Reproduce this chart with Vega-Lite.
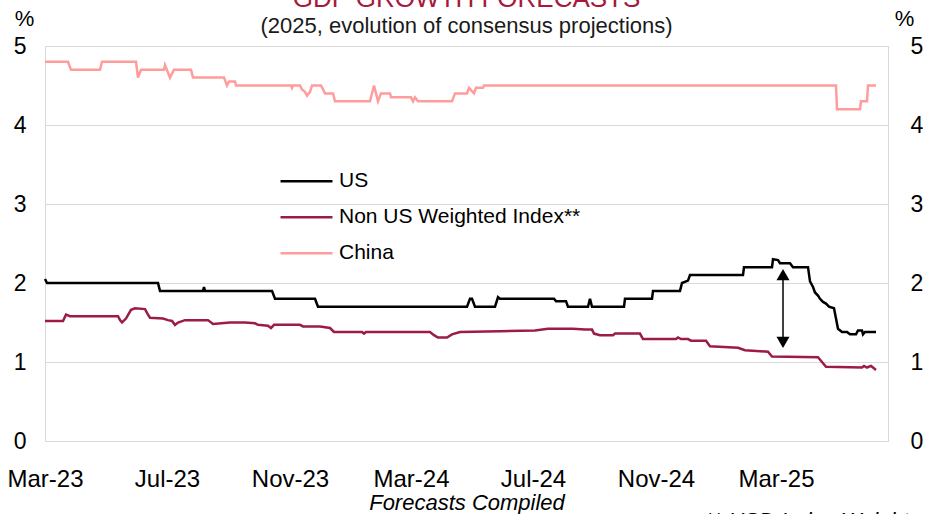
{
  "$schema": "https://vega.github.io/schema/vega-lite/v6.json",
  "width": 843,
  "height": 395,
  "autosize": {"type": "none"},
  "padding": {"left": 45, "top": 46, "right": 41, "bottom": 73},
  "background": "white",
  "config": {
    "font": "Liberation Sans",
    "view": {"stroke": "#D9D9D9", "strokeWidth": 1},
    "axis": {"domain": false, "ticks": false, "grid": false, "labelColor": "#000000", "titleColor": "#000000", "titleFontWeight": "normal"}
  },
  "title": {
    "text": "GDP GROWTH FORECASTS",
    "subtitle": "(2025, evolution of consensus projections)",
    "anchor": "middle",
    "frame": "group",
    "color": "#A6193C",
    "fontSize": 26,
    "fontWeight": "normal",
    "subtitleFontSize": 22,
    "subtitleColor": "#1A1A1A",
    "subtitlePadding": 4,
    "offset": -30
  },
  "datasets": {
    "gdp": [
      {"date": "2023-03-01", "series": "China", "value": 4.80},
      {"date": "2023-03-24", "series": "China", "value": 4.80},
      {"date": "2023-03-27", "series": "China", "value": 4.70},
      {"date": "2023-04-25", "series": "China", "value": 4.70},
      {"date": "2023-04-27", "series": "China", "value": 4.80},
      {"date": "2023-05-31", "series": "China", "value": 4.80},
      {"date": "2023-06-02", "series": "China", "value": 4.60},
      {"date": "2023-06-05", "series": "China", "value": 4.70},
      {"date": "2023-06-28", "series": "China", "value": 4.70},
      {"date": "2023-06-29", "series": "China", "value": 4.76},
      {"date": "2023-07-04", "series": "China", "value": 4.60},
      {"date": "2023-07-08", "series": "China", "value": 4.70},
      {"date": "2023-07-25", "series": "China", "value": 4.70},
      {"date": "2023-07-27", "series": "China", "value": 4.60},
      {"date": "2023-08-27", "series": "China", "value": 4.60},
      {"date": "2023-08-30", "series": "China", "value": 4.50},
      {"date": "2023-09-01", "series": "China", "value": 4.55},
      {"date": "2023-09-07", "series": "China", "value": 4.55},
      {"date": "2023-09-08", "series": "China", "value": 4.50},
      {"date": "2023-11-02", "series": "China", "value": 4.50},
      {"date": "2023-11-03", "series": "China", "value": 4.47},
      {"date": "2023-11-04", "series": "China", "value": 4.50},
      {"date": "2023-11-11", "series": "China", "value": 4.50},
      {"date": "2023-11-13", "series": "China", "value": 4.45},
      {"date": "2023-11-16", "series": "China", "value": 4.42},
      {"date": "2023-11-18", "series": "China", "value": 4.37},
      {"date": "2023-11-21", "series": "China", "value": 4.42},
      {"date": "2023-11-23", "series": "China", "value": 4.50},
      {"date": "2023-12-02", "series": "China", "value": 4.50},
      {"date": "2023-12-06", "series": "China", "value": 4.40},
      {"date": "2023-12-14", "series": "China", "value": 4.40},
      {"date": "2023-12-16", "series": "China", "value": 4.30},
      {"date": "2024-01-20", "series": "China", "value": 4.30},
      {"date": "2024-01-24", "series": "China", "value": 4.50},
      {"date": "2024-01-28", "series": "China", "value": 4.30},
      {"date": "2024-01-31", "series": "China", "value": 4.40},
      {"date": "2024-02-09", "series": "China", "value": 4.40},
      {"date": "2024-02-10", "series": "China", "value": 4.35},
      {"date": "2024-03-01", "series": "China", "value": 4.35},
      {"date": "2024-03-03", "series": "China", "value": 4.30},
      {"date": "2024-03-05", "series": "China", "value": 4.35},
      {"date": "2024-03-08", "series": "China", "value": 4.30},
      {"date": "2024-04-11", "series": "China", "value": 4.30},
      {"date": "2024-04-14", "series": "China", "value": 4.40},
      {"date": "2024-04-26", "series": "China", "value": 4.40},
      {"date": "2024-04-28", "series": "China", "value": 4.47},
      {"date": "2024-05-03", "series": "China", "value": 4.40},
      {"date": "2024-05-05", "series": "China", "value": 4.47},
      {"date": "2024-05-12", "series": "China", "value": 4.47},
      {"date": "2024-05-13", "series": "China", "value": 4.50},
      {"date": "2025-04-30", "series": "China", "value": 4.50},
      {"date": "2025-05-01", "series": "China", "value": 4.20},
      {"date": "2025-05-24", "series": "China", "value": 4.20},
      {"date": "2025-05-25", "series": "China", "value": 4.30},
      {"date": "2025-05-31", "series": "China", "value": 4.30},
      {"date": "2025-06-01", "series": "China", "value": 4.50},
      {"date": "2025-06-09", "series": "China", "value": 4.50},

      {"date": "2023-03-01", "series": "Non US Weighted Index**", "value": 1.52},
      {"date": "2023-03-19", "series": "Non US Weighted Index**", "value": 1.52},
      {"date": "2023-03-22", "series": "Non US Weighted Index**", "value": 1.60},
      {"date": "2023-03-26", "series": "Non US Weighted Index**", "value": 1.58},
      {"date": "2023-05-13", "series": "Non US Weighted Index**", "value": 1.58},
      {"date": "2023-05-15", "series": "Non US Weighted Index**", "value": 1.53},
      {"date": "2023-05-17", "series": "Non US Weighted Index**", "value": 1.50},
      {"date": "2023-05-21", "series": "Non US Weighted Index**", "value": 1.55},
      {"date": "2023-05-26", "series": "Non US Weighted Index**", "value": 1.66},
      {"date": "2023-05-30", "series": "Non US Weighted Index**", "value": 1.68},
      {"date": "2023-06-09", "series": "Non US Weighted Index**", "value": 1.67},
      {"date": "2023-06-12", "series": "Non US Weighted Index**", "value": 1.60},
      {"date": "2023-06-14", "series": "Non US Weighted Index**", "value": 1.56},
      {"date": "2023-06-27", "series": "Non US Weighted Index**", "value": 1.55},
      {"date": "2023-07-02", "series": "Non US Weighted Index**", "value": 1.53},
      {"date": "2023-07-06", "series": "Non US Weighted Index**", "value": 1.52},
      {"date": "2023-07-09", "series": "Non US Weighted Index**", "value": 1.47},
      {"date": "2023-07-12", "series": "Non US Weighted Index**", "value": 1.50},
      {"date": "2023-07-19", "series": "Non US Weighted Index**", "value": 1.53},
      {"date": "2023-08-11", "series": "Non US Weighted Index**", "value": 1.53},
      {"date": "2023-08-16", "series": "Non US Weighted Index**", "value": 1.48},
      {"date": "2023-09-02", "series": "Non US Weighted Index**", "value": 1.50},
      {"date": "2023-09-17", "series": "Non US Weighted Index**", "value": 1.50},
      {"date": "2023-09-27", "series": "Non US Weighted Index**", "value": 1.49},
      {"date": "2023-09-30", "series": "Non US Weighted Index**", "value": 1.47},
      {"date": "2023-10-10", "series": "Non US Weighted Index**", "value": 1.46},
      {"date": "2023-10-13", "series": "Non US Weighted Index**", "value": 1.43},
      {"date": "2023-10-16", "series": "Non US Weighted Index**", "value": 1.47},
      {"date": "2023-11-11", "series": "Non US Weighted Index**", "value": 1.47},
      {"date": "2023-11-14", "series": "Non US Weighted Index**", "value": 1.45},
      {"date": "2023-12-01", "series": "Non US Weighted Index**", "value": 1.45},
      {"date": "2023-12-11", "series": "Non US Weighted Index**", "value": 1.43},
      {"date": "2023-12-15", "series": "Non US Weighted Index**", "value": 1.38},
      {"date": "2024-01-12", "series": "Non US Weighted Index**", "value": 1.38},
      {"date": "2024-01-14", "series": "Non US Weighted Index**", "value": 1.36},
      {"date": "2024-01-16", "series": "Non US Weighted Index**", "value": 1.38},
      {"date": "2024-03-20", "series": "Non US Weighted Index**", "value": 1.38},
      {"date": "2024-03-24", "series": "Non US Weighted Index**", "value": 1.34},
      {"date": "2024-03-28", "series": "Non US Weighted Index**", "value": 1.31},
      {"date": "2024-04-06", "series": "Non US Weighted Index**", "value": 1.31},
      {"date": "2024-04-11", "series": "Non US Weighted Index**", "value": 1.35},
      {"date": "2024-04-19", "series": "Non US Weighted Index**", "value": 1.38},
      {"date": "2024-05-29", "series": "Non US Weighted Index**", "value": 1.39},
      {"date": "2024-07-03", "series": "Non US Weighted Index**", "value": 1.40},
      {"date": "2024-07-16", "series": "Non US Weighted Index**", "value": 1.42},
      {"date": "2024-08-10", "series": "Non US Weighted Index**", "value": 1.42},
      {"date": "2024-08-22", "series": "Non US Weighted Index**", "value": 1.41},
      {"date": "2024-08-29", "series": "Non US Weighted Index**", "value": 1.41},
      {"date": "2024-08-31", "series": "Non US Weighted Index**", "value": 1.36},
      {"date": "2024-09-06", "series": "Non US Weighted Index**", "value": 1.34},
      {"date": "2024-09-19", "series": "Non US Weighted Index**", "value": 1.34},
      {"date": "2024-09-21", "series": "Non US Weighted Index**", "value": 1.36},
      {"date": "2024-10-16", "series": "Non US Weighted Index**", "value": 1.36},
      {"date": "2024-10-19", "series": "Non US Weighted Index**", "value": 1.29},
      {"date": "2024-11-21", "series": "Non US Weighted Index**", "value": 1.29},
      {"date": "2024-11-23", "series": "Non US Weighted Index**", "value": 1.31},
      {"date": "2024-11-26", "series": "Non US Weighted Index**", "value": 1.29},
      {"date": "2024-12-03", "series": "Non US Weighted Index**", "value": 1.29},
      {"date": "2024-12-06", "series": "Non US Weighted Index**", "value": 1.27},
      {"date": "2024-12-21", "series": "Non US Weighted Index**", "value": 1.27},
      {"date": "2024-12-25", "series": "Non US Weighted Index**", "value": 1.20},
      {"date": "2025-01-22", "series": "Non US Weighted Index**", "value": 1.18},
      {"date": "2025-01-29", "series": "Non US Weighted Index**", "value": 1.15},
      {"date": "2025-02-21", "series": "Non US Weighted Index**", "value": 1.13},
      {"date": "2025-02-25", "series": "Non US Weighted Index**", "value": 1.07},
      {"date": "2025-04-12", "series": "Non US Weighted Index**", "value": 1.06},
      {"date": "2025-04-16", "series": "Non US Weighted Index**", "value": 1.00},
      {"date": "2025-04-20", "series": "Non US Weighted Index**", "value": 0.94},
      {"date": "2025-05-26", "series": "Non US Weighted Index**", "value": 0.93},
      {"date": "2025-05-28", "series": "Non US Weighted Index**", "value": 0.95},
      {"date": "2025-05-31", "series": "Non US Weighted Index**", "value": 0.93},
      {"date": "2025-06-04", "series": "Non US Weighted Index**", "value": 0.95},
      {"date": "2025-06-06", "series": "Non US Weighted Index**", "value": 0.93},
      {"date": "2025-06-09", "series": "Non US Weighted Index**", "value": 0.90},

      {"date": "2023-03-01", "series": "US", "value": 2.05},
      {"date": "2023-03-03", "series": "US", "value": 2.00},
      {"date": "2023-06-22", "series": "US", "value": 2.00},
      {"date": "2023-06-24", "series": "US", "value": 1.90},
      {"date": "2023-08-06", "series": "US", "value": 1.90},
      {"date": "2023-08-07", "series": "US", "value": 1.95},
      {"date": "2023-08-08", "series": "US", "value": 1.90},
      {"date": "2023-10-14", "series": "US", "value": 1.90},
      {"date": "2023-10-17", "series": "US", "value": 1.80},
      {"date": "2023-11-26", "series": "US", "value": 1.80},
      {"date": "2023-11-29", "series": "US", "value": 1.70},
      {"date": "2024-04-26", "series": "US", "value": 1.70},
      {"date": "2024-04-29", "series": "US", "value": 1.80},
      {"date": "2024-05-01", "series": "US", "value": 1.80},
      {"date": "2024-05-04", "series": "US", "value": 1.70},
      {"date": "2024-05-24", "series": "US", "value": 1.70},
      {"date": "2024-05-26", "series": "US", "value": 1.78},
      {"date": "2024-05-27", "series": "US", "value": 1.82},
      {"date": "2024-05-29", "series": "US", "value": 1.80},
      {"date": "2024-07-22", "series": "US", "value": 1.80},
      {"date": "2024-07-24", "series": "US", "value": 1.77},
      {"date": "2024-08-03", "series": "US", "value": 1.77},
      {"date": "2024-08-05", "series": "US", "value": 1.70},
      {"date": "2024-08-25", "series": "US", "value": 1.70},
      {"date": "2024-08-27", "series": "US", "value": 1.80},
      {"date": "2024-08-29", "series": "US", "value": 1.70},
      {"date": "2024-09-30", "series": "US", "value": 1.70},
      {"date": "2024-10-01", "series": "US", "value": 1.80},
      {"date": "2024-10-28", "series": "US", "value": 1.80},
      {"date": "2024-10-29", "series": "US", "value": 1.90},
      {"date": "2024-11-25", "series": "US", "value": 1.90},
      {"date": "2024-11-27", "series": "US", "value": 2.00},
      {"date": "2024-12-03", "series": "US", "value": 2.03},
      {"date": "2024-12-05", "series": "US", "value": 2.10},
      {"date": "2025-01-27", "series": "US", "value": 2.10},
      {"date": "2025-01-28", "series": "US", "value": 2.20},
      {"date": "2025-02-25", "series": "US", "value": 2.20},
      {"date": "2025-02-26", "series": "US", "value": 2.30},
      {"date": "2025-03-03", "series": "US", "value": 2.29},
      {"date": "2025-03-05", "series": "US", "value": 2.25},
      {"date": "2025-03-15", "series": "US", "value": 2.25},
      {"date": "2025-03-18", "series": "US", "value": 2.20},
      {"date": "2025-04-02", "series": "US", "value": 2.20},
      {"date": "2025-04-04", "series": "US", "value": 2.02},
      {"date": "2025-04-07", "series": "US", "value": 1.95},
      {"date": "2025-04-09", "series": "US", "value": 1.88},
      {"date": "2025-04-12", "series": "US", "value": 1.84},
      {"date": "2025-04-14", "series": "US", "value": 1.80},
      {"date": "2025-04-17", "series": "US", "value": 1.76},
      {"date": "2025-04-20", "series": "US", "value": 1.74},
      {"date": "2025-04-23", "series": "US", "value": 1.70},
      {"date": "2025-04-28", "series": "US", "value": 1.68},
      {"date": "2025-04-30", "series": "US", "value": 1.55},
      {"date": "2025-05-02", "series": "US", "value": 1.42},
      {"date": "2025-05-06", "series": "US", "value": 1.38},
      {"date": "2025-05-11", "series": "US", "value": 1.38},
      {"date": "2025-05-14", "series": "US", "value": 1.35},
      {"date": "2025-05-20", "series": "US", "value": 1.35},
      {"date": "2025-05-22", "series": "US", "value": 1.40},
      {"date": "2025-05-26", "series": "US", "value": 1.40},
      {"date": "2025-05-27", "series": "US", "value": 1.35},
      {"date": "2025-05-29", "series": "US", "value": 1.38},
      {"date": "2025-06-09", "series": "US", "value": 1.38}
    ],
    "arrow": [
      {"date": "2025-03-08", "high": 2.15, "low": 1.20}
    ],
    "heads": [
      {"date": "2025-03-08", "value": 2.106, "end": "top"},
      {"date": "2025-03-08", "value": 1.248, "end": "bottom"}
    ],
    "note": [
      {"text": "** USD Index Weights"}
    ]
  },
  "layer": [
    {
      "layer": [
        {
          "data": {"name": "gdp"},
          "mark": {"type": "line", "strokeWidth": 2.5, "interpolate": "linear"},
          "encoding": {
            "x": {
              "field": "date",
              "type": "temporal",
              "title": "Forecasts Compiled",
              "scale": {"type": "utc", "domain": [{"year": 2023, "month": 3, "date": 1, "utc": true}, {"year": 2025, "month": 6, "date": 21, "utc": true}]},
              "axis": {
                "values": [
                  {"year": 2023, "month": 3, "date": 1, "utc": true},
                  {"year": 2023, "month": 7, "date": 1, "utc": true},
                  {"year": 2023, "month": 11, "date": 1, "utc": true},
                  {"year": 2024, "month": 3, "date": 1, "utc": true},
                  {"year": 2024, "month": 7, "date": 1, "utc": true},
                  {"year": 2024, "month": 11, "date": 1, "utc": true},
                  {"year": 2025, "month": 3, "date": 1, "utc": true}
                ],
                "format": "%b-%y",
                "labelFontSize": 24,
                "labelPadding": 26,
                "labelFlush": false,
                "labelOverlap": false,
                "titleFontSize": 22,
                "titleFontStyle": "italic",
                "titlePadding": 1
              }
            },
            "y": {
              "field": "value",
              "type": "quantitative",
              "scale": {"domain": [0, 5], "nice": false},
              "axis": {
                "orient": "left",
                "values": [0, 1, 2, 3, 4, 5],
                "format": "d",
                "grid": true,
                "gridColor": "#D9D9D9",
                "gridWidth": 1,
                "labelFontSize": 23,
                "labelPadding": 19,
                "title": "%",
                "titleAngle": 0,
                "titleX": -21,
                "titleY": -28,
                "titleAlign": "center",
                "titleBaseline": "middle",
                "titleFontSize": 22
              }
            },
            "color": {
              "field": "series",
              "type": "nominal",
              "scale": {"domain": ["US", "Non US Weighted Index**", "China"], "range": ["#000000", "#9C1C45", "#FF9C9C"]},
              "legend": {
                "title": null,
                "orient": "none",
                "legendX": 234,
                "legendY": 117.5,
                "padding": 0,
                "symbolType": "stroke",
                "symbolSize": 2700,
                "symbolStrokeWidth": 2.5,
                "labelFontSize": 21,
                "labelColor": "#000000",
                "labelOffset": 5,
                "labelLimit": 400,
                "clipHeight": 35.5,
                "rowPadding": 0
              }
            },
            "order": {"field": "date", "type": "temporal"}
          }
        },
        {
          "data": {"name": "arrow"},
          "mark": {"type": "rule", "color": "#000000", "strokeWidth": 1.5},
          "encoding": {
            "x": {"field": "date", "type": "temporal"},
            "y": {"field": "high", "type": "quantitative"},
            "y2": {"field": "low"}
          }
        },
        {
          "data": {"name": "heads"},
          "mark": {"type": "point", "filled": true, "color": "#000000", "opacity": 1, "size": 170},
          "encoding": {
            "x": {"field": "date", "type": "temporal"},
            "y": {"field": "value", "type": "quantitative"},
            "shape": {"field": "end", "type": "nominal", "scale": {"domain": ["top", "bottom"], "range": ["triangle-up", "triangle-down"]}, "legend": null}
          }
        },
        {
          "data": {"name": "note"},
          "mark": {"type": "text", "align": "left", "baseline": "alphabetic", "fontSize": 22, "fontStyle": "italic", "color": "#000000"},
          "encoding": {
            "x": {"datum": {"year": 2024, "month": 12, "date": 20, "utc": true}, "type": "temporal"},
            "y": {"datum": -1.1, "type": "quantitative"},
            "text": {"field": "text"}
          }
        }
      ]
    },
    {
      "data": {"name": "gdp"},
      "mark": {"type": "line", "opacity": 0},
      "encoding": {
        "x": {"field": "date", "type": "temporal"},
        "y": {
          "field": "value",
          "type": "quantitative",
          "scale": {"domain": [0, 5], "nice": false},
          "axis": {
            "orient": "right",
            "values": [0, 1, 2, 3, 4, 5],
            "format": "d",
            "grid": false,
            "labelFontSize": 23,
            "labelPadding": 22,
            "title": "%",
            "titleAngle": 0,
            "titleX": 16,
            "titleY": -28,
            "titleAlign": "center",
            "titleBaseline": "middle",
            "titleFontSize": 22
          }
        },
        "detail": {"field": "series"}
      }
    }
  ],
  "resolve": {"scale": {"y": "independent"}}
}
